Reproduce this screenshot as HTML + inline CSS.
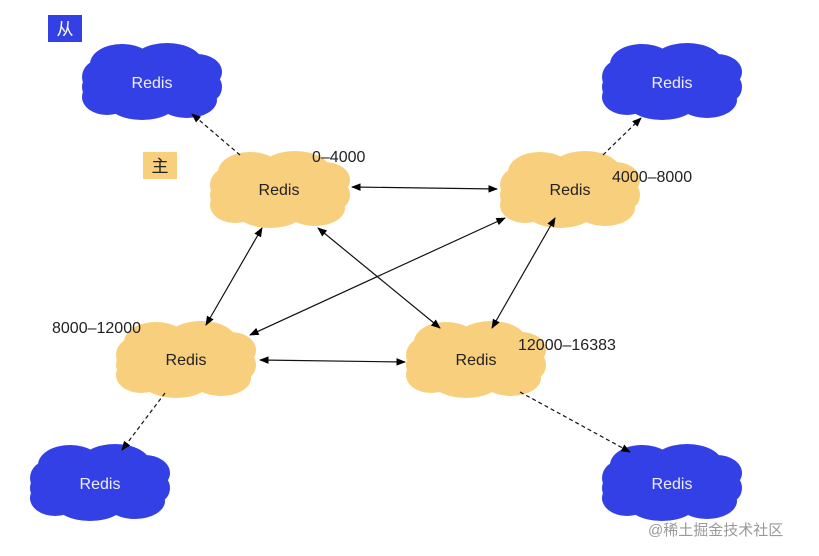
<!DOCTYPE html>
<html><head><meta charset="utf-8"><style>
html,body{margin:0;padding:0;background:#fff;}
svg{display:block;font-family:"Liberation Sans","Noto Sans CJK SC",sans-serif;}
</style></head><body>
<svg width="819" height="556" viewBox="0 0 819 556" xmlns="http://www.w3.org/2000/svg">
<defs>
<g id="cloud">
<ellipse cx="0" cy="0" rx="62" ry="28"/>
<ellipse cx="-30" cy="-18" rx="32" ry="20"/>
<ellipse cx="15" cy="-20" rx="35" ry="19"/>
<ellipse cx="45" cy="-10" rx="25" ry="18"/>
<ellipse cx="-50" cy="-5" rx="20" ry="18"/>
<ellipse cx="-45" cy="15" rx="25" ry="18"/>
<ellipse cx="-10" cy="20" rx="35" ry="18"/>
<ellipse cx="35" cy="18" rx="30" ry="18"/>
<ellipse cx="58" cy="5" rx="12" ry="14"/>
<ellipse cx="-60" cy="5" rx="10" ry="12"/>
</g>
<marker id="a" viewBox="0 0 10 10" refX="9" refY="5" markerWidth="8" markerHeight="8" orient="auto-start-reverse"><path d="M0,1 L10,5 L0,9 z" fill="#000"/></marker>
</defs>
<rect x="48" y="15" width="34" height="27" fill="#3340e6"/>
<text x="65" y="35" fill="#fff" font-size="17" text-anchor="middle">从</text>
<rect x="143" y="152" width="34" height="27" fill="#f8cf7c"/>
<text x="160" y="172" fill="#222" font-size="17" text-anchor="middle">主</text>
<g fill="#3340e6">
<use href="#cloud" x="152" y="82"/>
<use href="#cloud" x="672" y="82"/>
<use href="#cloud" x="100" y="483"/>
<use href="#cloud" x="672" y="483"/>
</g>
<g fill="#f8cf7c">
<use href="#cloud" x="280" y="190"/>
<use href="#cloud" x="570" y="190"/>
<use href="#cloud" x="186" y="360"/>
<use href="#cloud" x="476" y="360"/>
</g>
<g stroke="#111" stroke-width="1.2" fill="none" marker-start="url(#a)" marker-end="url(#a)">
<line x1="352" y1="187" x2="497" y2="189"/>
<line x1="262" y1="228" x2="206" y2="325"/>
<line x1="318" y1="228" x2="440" y2="328"/>
<line x1="505" y1="218" x2="250" y2="335"/>
<line x1="555" y1="218" x2="492" y2="328"/>
<line x1="260" y1="360" x2="405" y2="362"/>
</g>
<g stroke="#111" stroke-width="1.2" fill="none" stroke-dasharray="4,3" marker-end="url(#a)">
<line x1="240" y1="155" x2="192" y2="114"/>
<line x1="603" y1="155" x2="641" y2="118"/>
<line x1="165" y1="393" x2="122" y2="450"/>
<line x1="520" y1="392" x2="630" y2="452"/>
</g>
<g font-size="16" text-anchor="middle">
<text x="152" y="88" fill="#eef">Redis</text>
<text x="672" y="88" fill="#eef">Redis</text>
<text x="100" y="489" fill="#eef">Redis</text>
<text x="672" y="489" fill="#eef">Redis</text>
<text x="279" y="195" fill="#222">Redis</text>
<text x="570" y="195" fill="#222">Redis</text>
<text x="186" y="365" fill="#222">Redis</text>
<text x="476" y="365" fill="#222">Redis</text>
</g>
<g font-size="16" fill="#222">
<text x="312" y="162">0–4000</text>
<text x="612" y="182">4000–8000</text>
<text x="52" y="333">8000–12000</text>
<text x="518" y="350">12000–16383</text>
</g>
<text x="648" y="535" font-size="15" fill="#999">@稀土掘金技术社区</text>
</svg>
</body></html>
